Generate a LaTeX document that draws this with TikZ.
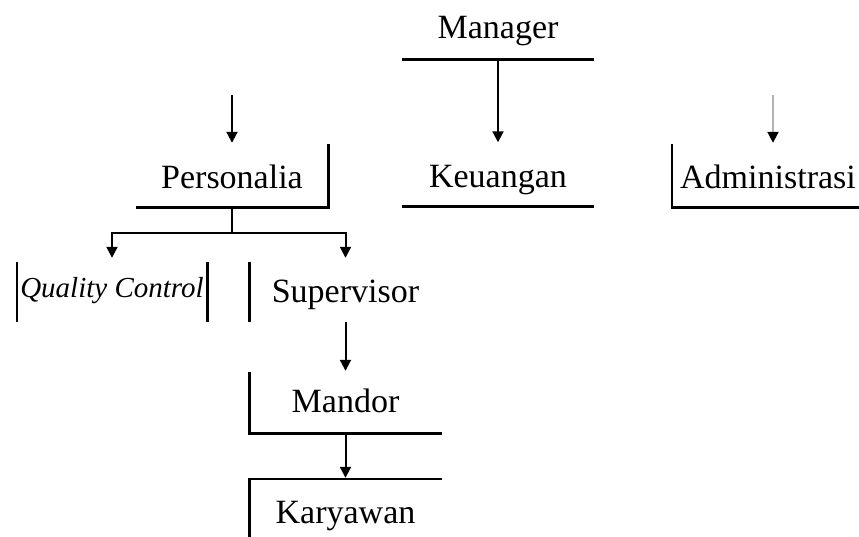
\documentclass[tikz,border=0pt]{standalone}
\usepackage{fontspec}
\setmainfont{Liberation Serif}
\usetikzlibrary{arrows.meta}

\begin{document}
\begin{tikzpicture}[x=1pt,y=-1pt,
  % 每个职位的格子:文字按基线放,格子的上下边由 text height 和 text depth 决定
  jabatan/.style={inner sep=0pt,minimum width=192pt,text height=44pt,
    text depth=19pt,anchor=base,font=\fontsize{34}{40}\selectfont},
  % 格子的边线
  garis/.style={line width=2.6pt},
  % 箭头
  panah/.style={line width=2pt,shorten >=1pt,
    -{Triangle[length=11pt,width=11pt,color=black]}}]

  \useasboundingbox (0,0) rectangle (859,536);

  % 职位
  \node[jabatan,text depth=21pt] (manager) at (498,38) {Manager};
  \node[jabatan] (keuangan) at (498,187.5) {Keuangan};
  \node[jabatan] (personalia) at (232,188) {Personalia};
  \node[jabatan] (administrasi) at (768,188) {Administrasi};
  \node[jabatan,minimum width=190pt,text height=35pt,text depth=25pt,
    font=\itshape\fontsize{29}{34}\selectfont] (qc) at (112,297) {Quality Control};
  \node[jabatan,text height=40pt,text depth=20pt] (supervisor) at (345.5,302) {Supervisor};
  \node[jabatan,text height=40pt,text depth=21pt] (mandor) at (345.5,412) {Mandor};
  \node[jabatan,text height=44pt,text depth=30pt] (karyawan) at (345.5,523) {Karyawan};

  % 格子只画出一部分的边
  \draw[garis] (manager.south west) -- (manager.south east);
  \draw[garis] (keuangan.south west) -- (keuangan.south east);
  \draw[garis] (personalia.south west) -- (personalia.south east) -- (personalia.north east);
  \draw[garis] (administrasi.north west) -- (administrasi.south west) -- (administrasi.south east);
  \draw[garis] (qc.north west) -- (qc.south west);
  \draw[garis] (qc.north east) -- (qc.south east);
  \draw[garis] (supervisor.north west) -- (supervisor.south west);
  \draw[garis] (mandor.north west) -- (mandor.south west) -- (mandor.south east);
  \draw[garis] (karyawan.south west) -- (karyawan.north west) -- (karyawan.north east);

  % 箭头
  \coordinate (masukP) at (232,95);
  \coordinate (masukA) at (773,95);
  \draw[panah] (manager.south) -- (keuangan.north);
  \draw[panah] (masukP) -- (personalia.north);
  \draw[panah,draw=black!30] (masukA) -- (masukA |- administrasi.north);

  % 分支
  \draw[line width=2pt] (personalia.south) -- ++(0,26) coordinate (cabang);
  \draw[panah,shorten >=4pt] (cabang) -| (qc.north);
  \draw[panah,shorten >=4pt] (cabang) -| (supervisor.north);
  \draw[panah] (supervisor.south) -- (mandor.north);
  \draw[panah] (mandor.south) -- (karyawan.north);

\end{tikzpicture}
\end{document}
